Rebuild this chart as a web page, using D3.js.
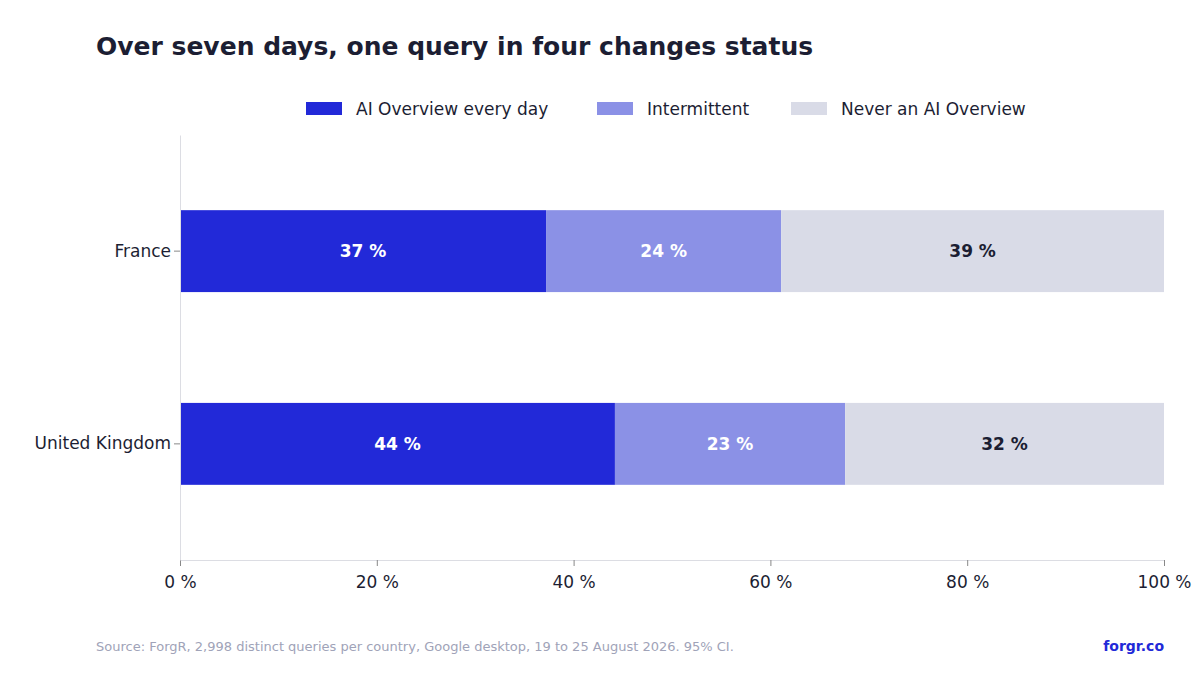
<!DOCTYPE html><html><head><meta charset="utf-8"><script src="https://cdn.jsdelivr.net/npm/d3@7"></script>
<style>body{margin:0;background:#fff}text{font-family:"DejaVu Sans",sans-serif}</style></head><body><svg width="1200" height="675"></svg>
<script>
const countries=["France","United Kingdom"];
const seriesNames=["AI Overview every day","Intermittent","Never an AI Overview"];
const everyDay=[37.2,44.2];
const intermittent=[23.9,23.4];
const never=[38.9,32.4];
const ticks=[0,20,40,60,80,100];
const colors=["#2229d8","#8b91e6","#d9dbe7"];
const labelColors=["#fff","#fff","#1c1e33"];
const svg=d3.select("svg");
const x=d3.scaleLinear().domain([0,100]).range([180,1164]);
const y=d3.scaleBand().domain(countries).range([135,560]).paddingInner(0.575).paddingOuter(0.39);
svg.append("text").attr("x",96).attr("y",55).attr("font-size",25).attr("font-weight","bold").attr("fill","#1c1e33").text("Over seven days, one query in four changes status");
const lx=[306,597,791];
seriesNames.forEach((n,i)=>{svg.append("rect").attr("x",lx[i]).attr("y",102).attr("width",36).attr("height",13).attr("fill",colors[i]);
svg.append("text").attr("x",lx[i]+50).attr("y",115).attr("font-size",17).attr("fill","#1c1e33").text(n);});
const series=[everyDay,intermittent,never];
countries.forEach((c,ci)=>{let acc=0;series.forEach((s,si)=>{const v=s[ci];
svg.append("rect").attr("x",x(acc)).attr("y",y(c)).attr("width",x(acc+v)-x(acc)).attr("height",y.bandwidth()).attr("fill",colors[si]);
svg.append("text").attr("x",(x(acc)+x(acc+v))/2).attr("y",y(c)+y.bandwidth()/2+6).attr("text-anchor","middle").attr("font-size",17).attr("font-weight","bold").attr("fill",labelColors[si]).text(Math.round(v)+" %");
acc+=v;});});
const xa=svg.append("g").attr("transform","translate(0,560)").call(d3.axisBottom(x).tickValues(ticks).tickFormat(d=>d+" %").tickSizeOuter(0));
xa.selectAll("text").attr("font-size",17).attr("fill","#1c1e33").attr("dy","1.1em");
xa.select(".domain").attr("stroke","#dcdde3");xa.selectAll("line").attr("stroke","#888");
const ya=svg.append("g").attr("transform","translate(180,0)").call(d3.axisLeft(y).tickSizeOuter(0));
ya.selectAll("text").attr("font-size",17).attr("fill","#1c1e33");
ya.select(".domain").attr("stroke","#dcdde3");ya.selectAll("line").attr("stroke","#888");
svg.append("text").attr("x",96).attr("y",651).attr("font-size",13).attr("fill","#a0a3b8").text("Source: ForgR, 2,998 distinct queries per country, Google desktop, 19 to 25 August 2026. 95% CI.");
svg.append("text").attr("x",1164).attr("y",651).attr("text-anchor","end").attr("font-size",14).attr("font-weight","bold").attr("fill","#2229d8").text("forgr.co");
</script></body></html>
